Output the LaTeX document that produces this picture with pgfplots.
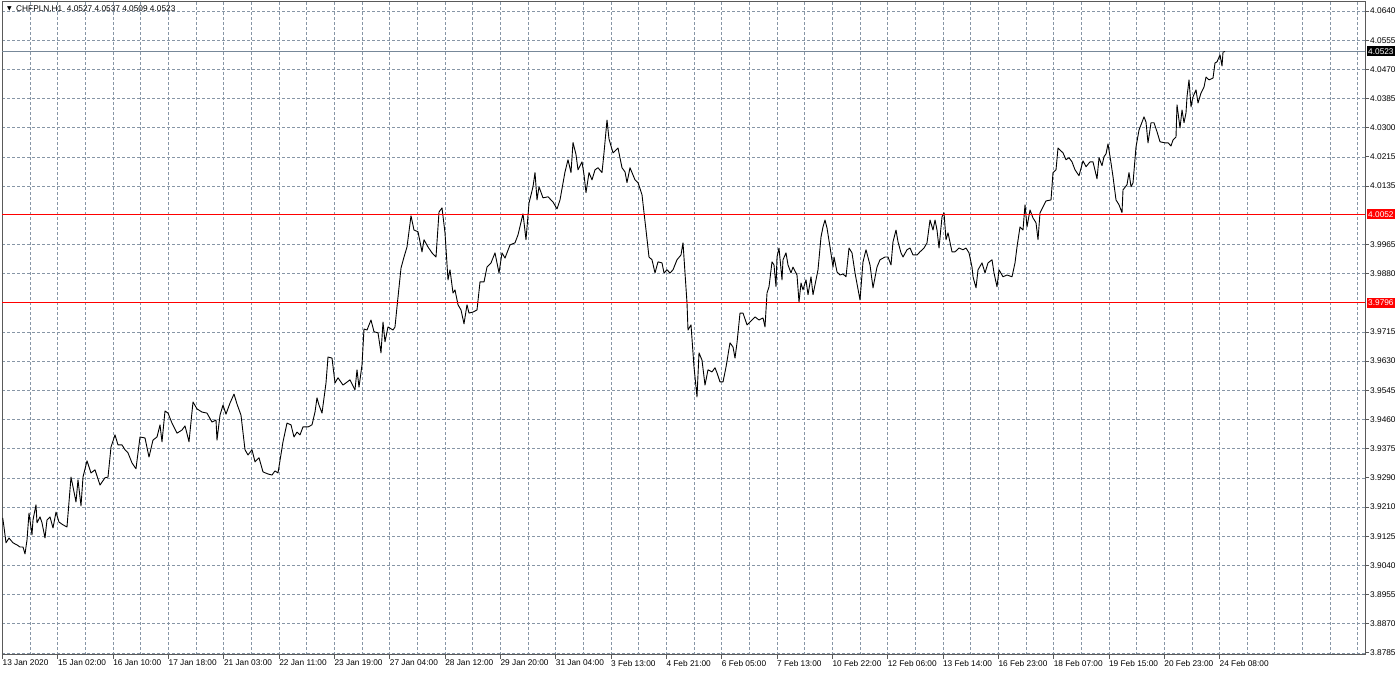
\documentclass[border=0pt]{standalone}
\usepackage{pgfplots}
\pgfplotsset{compat=1.18}
\usepackage{fontspec}
\setmainfont{Liberation Sans}
\newfontfamily\dejavu{DejaVu Sans}
\definecolor{lsg}{RGB}{119,136,153}
\definecolor{gridc}{RGB}{135,150,166}
\definecolor{framec}{RGB}{90,90,90}
\definecolor{lvlred}{RGB}{255,0,0}
\begin{document}
\begin{tikzpicture}
\useasboundingbox (0,0) rectangle (1400pt,674pt);
\begin{axis}[
  at={(2pt,19pt)}, anchor=south west,
  scale only axis, width=1363pt, height=653pt,
  xmin=2, xmax=1365, ymin=3.87789, ymax=4.06660,
  enlargelimits=false, clip=false,
  axis line style={framec, line width=1pt},
  tick align=outside, xtick pos=left, ytick pos=right,
  major tick length=4pt, minor tick length=0pt,
  tick style={framec, line width=0.8pt},
  xtick={2.5,57.8,113.1,168.5,223.8,279.1,334.4,389.7,445.1,500.4,555.7,611.0,666.3,721.7,777.0,832.3,887.6,942.9,998.3,1053.6,1108.9,1164.2,1219.5},
  xticklabels={13 Jan 2020,15 Jan 02:00,16 Jan 10:00,17 Jan 18:00,21 Jan 03:00,22 Jan 11:00,23 Jan 19:00,27 Jan 04:00,28 Jan 12:00,29 Jan 20:00,31 Jan 04:00,3 Feb 13:00,4 Feb 21:00,6 Feb 05:00,7 Feb 13:00,10 Feb 22:00,12 Feb 06:00,13 Feb 14:00,16 Feb 23:00,18 Feb 07:00,19 Feb 15:00,20 Feb 23:00,24 Feb 08:00},
  minor xtick={30.2,85.5,140.8,196.1,251.5,306.8,362.1,417.4,472.7,528.0,583.4,638.7,694.0,749.3,804.6,860.0,915.3,970.6,1025.9,1081.2,1136.6,1191.9,1247.2,1274.8,1302.5,1330.2,1357.8},
  ytick={4.0640,4.05557,4.04714,4.03870,4.03027,4.02184,4.01341,3.99654,3.98811,3.97125,3.96282,3.95438,3.94595,3.93752,3.92909,3.92066,3.91222,3.90379,3.89536,3.88693,3.87850},
  yticklabels={4.0640,4.0555,4.0470,4.0385,4.0300,4.0215,4.0135,3.9965,3.9880,3.9715,3.9630,3.9545,3.9460,3.9375,3.9290,3.9210,3.9125,3.9040,3.8955,3.8870,3.8785},
  xmajorgrids, xminorgrids, ymajorgrids,
  grid style={gridc, line width=0.65pt, dash pattern=on 2.5pt off 2.5pt},
  minor grid style={gridc, line width=0.65pt, dash pattern=on 2.5pt off 2.5pt},
  xticklabel style={font=\fontsize{8.3}{9}\selectfont, anchor=north west, inner sep=1pt, xshift=-1pt},
  yticklabel style={font=\fontsize{8.3}{9}\selectfont, anchor=west, inner sep=1pt},
]
\addplot[lsg, line width=1pt, forget plot] coordinates {(2,4.0523) (1365,4.0523)};
\addplot[black, line width=0.9pt, line join=round] coordinates {
(2.7,3.9175) (4,3.9149) (6,3.9103) (9,3.9117) (13,3.9103) (17,3.9097) (20,3.9091) (23,3.9091) (25,3.9071) (27,3.9111)
(29,3.9189) (32,3.9126) (33,3.9169) (36,3.9213) (37,3.9161) (40,3.9178) (42,3.9161) (45,3.9117) (47,3.9169) (50,3.9178)
(53,3.9146) (56,3.9192) (59,3.9163) (63,3.9155) (67,3.9149) (71,3.9293) (73,3.9265) (76,3.9221) (78,3.9285) (81,3.9210)
(83,3.9293) (87,3.9340) (91,3.9305) (95,3.9314) (100,3.9270) (105,3.9291) (108,3.9293) (111,3.9380) (115,3.9415) (118,3.9386)
(122,3.9386) (125,3.9372) (128,3.9363) (132,3.9334) (136,3.9317) (140,3.9409) (145,3.9406) (149,3.9351) (153,3.9400) (157,3.9409)
(160,3.9444) (162,3.9395) (165,3.9484) (168,3.9478) (172,3.9449) (177,3.9420) (182,3.9429) (185,3.9441) (189,3.9395) (193,3.9510)
(197,3.9490) (202,3.9481) (207,3.9478) (212,3.9452) (216,3.9458) (217,3.9400) (220,3.9472) (223,3.9501) (226,3.9475) (230,3.9507)
(234,3.9533) (237,3.9504) (241,3.9472) (245,3.9372) (248,3.9357) (252,3.9372) (255,3.9337) (259,3.9349) (263,3.9308) (268,3.9302)
(272,3.9299) (275,3.9311) (278,3.9305) (283,3.9395) (287,3.9449) (291,3.9444) (294,3.9409) (297,3.9423) (300,3.9415) (303,3.9438)
(308,3.9438) (312,3.9444) (315,3.9481) (317,3.9522) (319,3.9501) (322,3.9478) (326,3.9565) (328,3.9640) (332,3.9637) (335,3.9565)
(338,3.9580) (343,3.9559) (350,3.9574) (355,3.9545) (357,3.9603) (359,3.9553) (362,3.9617) (364,3.9721) (367,3.9718) (371,3.9747)
(374,3.9713) (378,3.9710) (381,3.9652) (383,3.9741) (385,3.9684) (388,3.9727) (393,3.9718) (395,3.9727) (397,3.9785) (401,3.9897)
(404,3.9929) (407,3.9958) (411,4.0048) (414,4.0007) (418,4.0002) (422,3.9944) (424,3.9979) (428,3.9958) (432,3.9941) (436,3.9929)
(439,4.0059) (442,4.0071) (445,3.9999) (448,3.9863) (450,3.9892) (453,3.9825) (455,3.9834) (458,3.9791) (461,3.9776) (464,3.9736)
(467,3.9791) (469,3.9767) (473,3.9770) (477,3.9776) (480,3.9857) (484,3.9857) (487,3.9900) (491,3.9912) (495,3.9941) (499,3.9883)
(502,3.9941) (505,3.9926) (510,3.9964) (515,3.9970) (518,3.9993) (523,4.0054) (526,3.9979) (529,4.0085) (533,4.0132) (535,4.0173)
(537,4.0094) (539,4.0132) (543,4.0100) (548,4.0103) (553,4.0088) (557,4.0068) (560,4.0094) (565,4.0175) (568,4.0210) (571,4.0173)
(573,4.0260) (576,4.0225) (578,4.0181) (582,4.0204) (584,4.0167) (586,4.0115) (589,4.0173) (592,4.0152) (595,4.0181) (598,4.0187)
(602,4.0173) (604,4.0230) (607,4.0325) (609,4.0270) (613,4.0230) (618,4.0244) (622,4.0187) (625,4.0175) (627,4.0144) (630,4.0187)
(635,4.0152) (638,4.0144) (642,4.0109) (644,4.0057) (646,4.0007) (649,3.9929) (652,3.9921) (655,3.9883) (658,3.9915) (662,3.9912)
(664,3.9883) (667,3.9892) (670,3.9883) (673,3.9892) (677,3.9921) (681,3.9935) (683,3.9970) (685,3.9883) (687,3.9796) (688,3.9718)
(691,3.9733) (693,3.9652) (694,3.9611) (697,3.9525) (699,3.9652) (702,3.9631) (705,3.9559) (708,3.9603) (712,3.9597) (715,3.9609)
(717,3.9594) (720,3.9568) (723,3.9568) (726,3.9611) (730,3.9681) (733,3.9669) (735,3.9637) (737,3.9681) (740,3.9767) (743,3.9767)
(747,3.9733) (750,3.9741) (755,3.9756) (759,3.9747) (763,3.9753) (765,3.9727) (767,3.9825) (769,3.9843) (772,3.9915) (774,3.9906)
(776,3.9843) (777,3.9929) (779,3.9955) (782,3.9863) (783,3.9921) (786,3.9941) (788,3.9906) (791,3.9883) (793,3.9900) (797,3.9877)
(799,3.9799) (801,3.9854) (803,3.9834) (806,3.9863) (808,3.9820) (811,3.9872) (813,3.9820) (816,3.9863) (818,3.9892) (821,3.9987)
(823,4.0016) (825,4.0036) (827,4.0013) (830,3.9958) (833,3.9900) (834,3.9929) (837,3.9886) (840,3.9877) (843,3.9880) (846,3.9872)
(849,3.9955) (852,3.9941) (855,3.9883) (860,3.9805) (863,3.9915) (866,3.9950) (870,3.9906) (873,3.9840) (877,3.9900) (880,3.9921)
(885,3.9929) (888,3.9929) (891,3.9906) (893,3.9973) (896,4.0007) (898,3.9973) (901,3.9941) (903,3.9929) (907,3.9950) (910,3.9955)
(913,3.9935) (917,3.9935) (920,3.9944) (924,3.9955) (927,3.9970) (930,4.0036) (933,4.0007) (935,4.0036) (937,4.0007) (939,3.9955)
(942,4.0045) (944,4.0057) (946,3.9979) (948,3.9999) (952,3.9944) (955,3.9944) (959,3.9955) (963,3.9950) (966,3.9955) (969,3.9941)
(972,3.9900) (973,3.9872) (976,3.9840) (978,3.9892) (982,3.9912) (985,3.9883) (988,3.9912) (992,3.9921) (994,3.9883) (997,3.9843)
(999,3.9892) (1003,3.9872) (1007,3.9877) (1012,3.9872) (1015,3.9912) (1017,3.9958) (1020,4.0016) (1023,4.0007) (1025,4.0080) (1027,4.0016)
(1030,4.0065) (1033,4.0042) (1036,4.0028) (1038,3.9979) (1040,4.0057) (1043,4.0074) (1046,4.0091) (1051,4.0094) (1053,4.0173) (1056,4.0181)
(1058,4.0244) (1063,4.0230) (1066,4.0210) (1069,4.0216) (1072,4.0204) (1075,4.0181) (1079,4.0164) (1083,4.0207) (1086,4.0190) (1090,4.0204)
(1093,4.0204) (1097,4.0155) (1099,4.0216) (1102,4.0193) (1104,4.0219) (1106,4.0227) (1108,4.0256) (1111,4.0201) (1113,4.0161) (1116,4.0094)
(1119,4.0080) (1122,4.0057) (1123,4.0123) (1127,4.0138) (1129,4.0173) (1131,4.0132) (1133,4.0143) (1136,4.0247) (1139,4.0296) (1144,4.0334)
(1146,4.0319) (1148,4.0259) (1151,4.0317) (1154,4.0317) (1157,4.0291) (1160,4.0262) (1165,4.0259) (1168,4.0259) (1171,4.0250) (1173,4.0267)
(1176,4.0276) (1177,4.0369) (1180,4.0302) (1182,4.0354) (1184,4.0317) (1186,4.0346) (1187,4.0392) (1189,4.0441) (1191,4.0363) (1193,4.0392)
(1196,4.0412) (1198,4.0374) (1201,4.0403) (1204,4.0420) (1206,4.0449) (1209,4.0441) (1213,4.0446) (1215,4.0490) (1217,4.0493) (1220,4.0513)
(1222,4.0481) (1223,4.0521) (1225,4.0523)
};
\addplot[draw=lvlred, line width=1.1pt, forget plot] coordinates {(2,4.0052) (1365,4.0052)};
\addplot[draw=lvlred, line width=1.1pt, forget plot] coordinates {(2,3.97975) (1365,3.97975)};
\node[fill=lvlred, text=white, anchor=west, inner xsep=1.5pt, inner ysep=0pt, minimum height=10pt, font=\fontsize{8.3}{9}\selectfont] at (axis cs:1366.5,4.0052) {4.0052};
\node[fill=lvlred, text=white, anchor=west, inner xsep=1.5pt, inner ysep=0pt, minimum height=10pt, font=\fontsize{8.3}{9}\selectfont] at (axis cs:1366.5,3.97975) {3.9796};
\node[fill=black, text=white, anchor=west, inner xsep=1.5pt, inner ysep=0pt, minimum height=10pt, font=\fontsize{8.3}{9}\selectfont] at (axis cs:1366.5,4.0523) {4.0523};
\node[anchor=west, inner sep=0pt, font=\fontsize{8.3}{9}\selectfont] at ([xshift=14pt,yshift=-7pt]rel axis cs:0,1) {CHFPLN,H1\ \ 4.0527 4.0537 4.0509 4.0523};
\node[anchor=west, inner sep=0pt, font=\dejavu\fontsize{6}{6}\selectfont] at ([xshift=5pt,yshift=-7pt]rel axis cs:0,1) {▼};
\end{axis}
\end{tikzpicture}
\end{document}
